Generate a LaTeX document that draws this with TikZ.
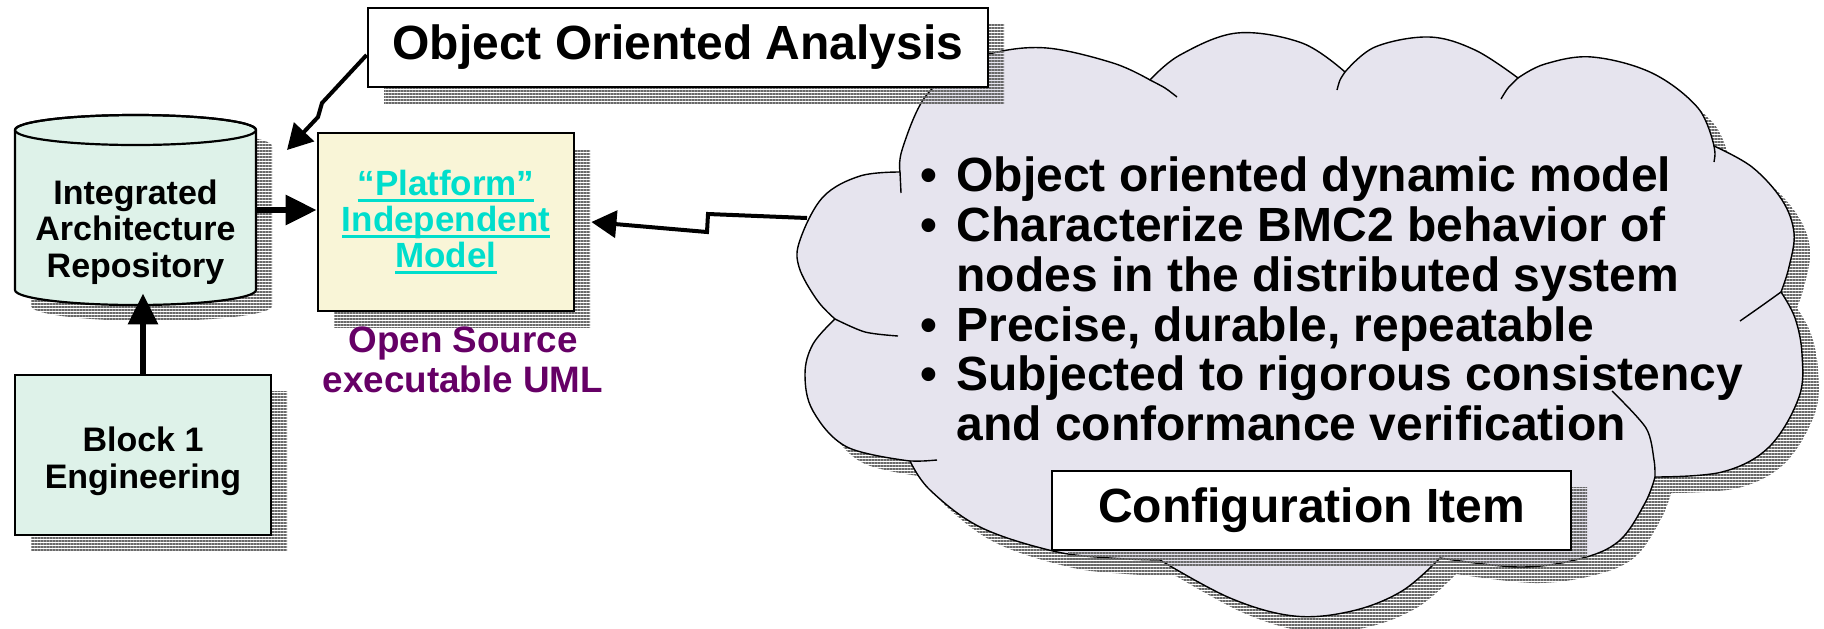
\documentclass[tikz,border=0pt]{standalone}
\usepackage{fontspec}
\setmainfont{Liberation Sans}
\usetikzlibrary{arrows.meta,patterns.meta,shadows}

\definecolor{mint}{RGB}{222,242,233}
\definecolor{cream}{RGB}{249,245,215}
\definecolor{lavender}{RGB}{230,228,238}
\definecolor{aqua}{RGB}{0,222,204}
\definecolor{plum}{RGB}{102,0,102}
\definecolor{shadowgray}{RGB}{105,105,105}

% thick underline in the current text colour
\newsavebox\ulbox
\newcommand\ulx[1]{\sbox\ulbox{#1}\rlap{\rule[-3.1pt]{\wd\ulbox}{1.25pt}}\usebox\ulbox}
% bullet with a fixed indent, and the matching blank indent
\newcommand\bul{\makebox[18pt][l]{\textbullet}}
\newcommand\nobul{\hspace*{18pt}}

\begin{document}
\begin{tikzpicture}[x=0.5pt, y=-0.5pt,
  hatch/.style={general shadow={shadow xshift=8pt, shadow yshift=-8pt,
      pattern={Lines[distance=1.5pt, line width=1.15pt]}, pattern color=shadowgray}},
  framebox/.style={draw=black, line width=1.4pt, inner sep=0pt, hatch},
  bigtext/.style={font=\fontsize{24pt}{24.9pt}\selectfont\bfseries},
  smalltext/.style={font=\fontsize{17pt}{18.3pt}\selectfont\bfseries, align=center},
  cloudline/.style={draw=black, line width=0.7pt},
  fatarrow/.style={line width=3pt, -{Triangle[length=15.5pt, width=14.5pt]}},
  boltarrow/.style={line width=2pt, line join=miter, -{Triangle[length=12.5pt, width=13.5pt]}},
]
\useasboundingbox (0,0) rectangle (1824,628);

% ---------- cloud ----------
\path[hatch, fill=lavender, cloudline, line join=round]
  plot[smooth, tension=0.6] coordinates {(835,319) (817,300) (799,267) (800,240) (823,197) (860,176) (900,172)}
  -- plot[smooth, tension=0.6] coordinates {(900,172) (902,150) (923,100) (955,70) (993,53) (1047,48) (1113,63) (1150,80)}
  -- plot[smooth, tension=0.6] coordinates {(1150,80) (1180,55) (1237,33) (1302,43) (1345,72)}
  -- plot[smooth, tension=0.6] coordinates {(1345,72) (1375,47) (1429,37) (1475,50) (1518,78)}
  -- plot[smooth, tension=0.6] coordinates {(1518,78) (1545,64) (1592,57) (1652,73) (1698,108) (1714,146)}
  -- plot[smooth, tension=0.6] coordinates {(1714,146) (1752,167) (1782,200) (1794,233) (1789,267) (1781,292)}
  -- plot[smooth, tension=0.6] coordinates {(1781,292) (1795,318) (1802,354) (1799,397) (1769,447) (1722,472) (1655,477)}
  -- plot[smooth, tension=0.6] coordinates {(1655,477) (1645,503) (1619,541) (1579,559) (1519,567) (1440,558)}
  -- plot[smooth, tension=0.6] coordinates {(1440,558) (1402,591) (1352,611) (1294,616) (1230,598) (1160,560)}
  -- plot[smooth, tension=0.6] coordinates {(1160,560) (1110,558) (1053,551) (980,527) (930,490) (910,461)}
  -- plot[smooth, tension=0.6] coordinates {(910,461) (847,447) (813,411) (805,374) (813,344) (835,319)}
  -- cycle;
% inner ends of the lobes
\draw[cloudline] (900,172) -- (901,193);
\draw[cloudline] plot[smooth] coordinates {(1150,80) (1165,88) (1177,97)};
\draw[cloudline] plot[smooth] coordinates {(1345,72) (1340,80) (1337,90)};
\draw[cloudline] plot[smooth] coordinates {(1518,78) (1508,88) (1501,99)};
\draw[cloudline] plot[smooth] coordinates {(1714,146) (1715,154) (1714,162)};
\draw[cloudline] plot[smooth] coordinates {(1781,292) (1760,307) (1740,321)};
\draw[cloudline] plot[smooth] coordinates {(1655,477) (1654,460) (1646,428) (1612,391)};
\draw[cloudline] plot[smooth] coordinates {(910,461) (923,461) (937,460)};
\draw[cloudline] plot[smooth] coordinates {(835,319) (865,332) (898,336)};

\node[bigtext, align=left, inner sep=0pt, anchor=west] (points) at (920,299)
  {\bul Object oriented dynamic model\\
   \bul Characterize BMC2 behavior of\\
   \nobul nodes in the distributed system\\
   \bul Precise, durable, repeatable\\
   \bul Subjected to rigorous consistency\\
   \nobul and conformance verification};

\node[framebox, fill=white, bigtext, minimum width=259.5pt, minimum height=39.5pt]
  (ci) at (1311.5,510.5) {Configuration Item};

% ---------- analysis box ----------
\node[framebox, fill=white, bigtext, minimum width=310pt, minimum height=39.5pt]
  (ooa) at (678,47.5) {Object Oriented Analysis};

% ---------- repository cylinder ----------
\path[hatch, fill=mint, draw=black, line width=1.1pt]
  (15,130) -- (15,290) arc[start angle=180, end angle=360, x radius=60.25pt, y radius=7.5pt]
  -- (256,130) arc[start angle=0, end angle=180, x radius=60.25pt, y radius=7.5pt] -- cycle;
\draw[line width=1.1pt] (135.5,130) ellipse[x radius=60.25pt, y radius=7.5pt];
\node[inner sep=0pt, minimum width=120.5pt, minimum height=95pt] (repo) at (135.5,210) {};
\node[smalltext] (repolabel) at (135.5,232) {Integrated\\Architecture\\Repository};

% ---------- engineering block ----------
\node[framebox, fill=mint, minimum width=128pt, minimum height=80pt] (block1) at (143,455) {};
\node[smalltext] (block1label) at (143,461) {Block 1\\Engineering};

% ---------- platform independent model ----------
\node[framebox, fill=cream, text=aqua, minimum width=128pt, minimum height=89pt,
      font=\fontsize{17.5pt}{17.9pt}\selectfont\bfseries, align=center]
  (pim) at (446,222) {\ulx{“Platform”}\\\ulx{Independent}\\\ulx{Model}};
\node[font=\fontsize{18.4pt}{20pt}\selectfont\bfseries, align=center, text=plum]
  (oss) at (463,360) {Open Source\\executable UML};

% ---------- connectors ----------
\draw[fatarrow] (repo.east) -- (repo.east -| pim.west);
\draw[fatarrow, shorten >=-6pt] (block1.north) -- (block1.north |- repo.south);
\coordinate (ooatip) at (287,150);
\draw[boltarrow] ([yshift=-3.75pt]ooa.west) -- (322,103) -- (318,117) -- (ooatip);
\coordinate (cloudport) at (807,218);
\draw[boltarrow] (cloudport) -- (708,214) -- (707,232) -- ([xshift=8pt]pim.east);
\end{tikzpicture}
\end{document}
